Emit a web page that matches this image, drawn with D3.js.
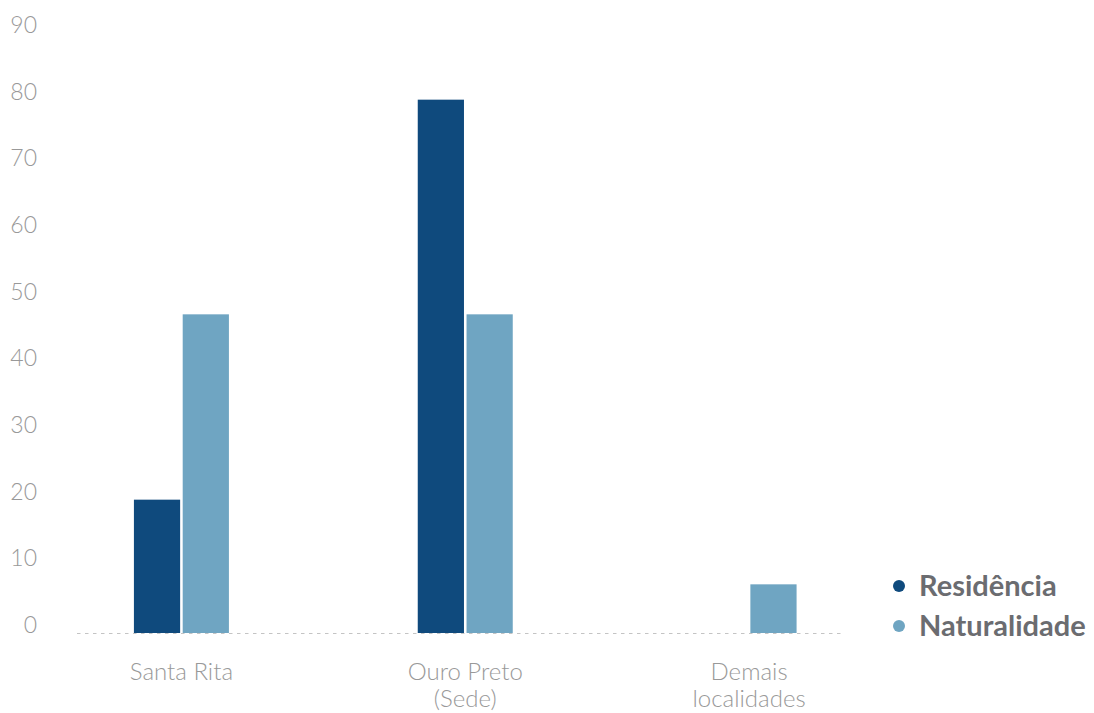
<!DOCTYPE html>
<html><head><meta charset="utf-8">
<script src="https://cdn.jsdelivr.net/npm/d3@7"></script>
<style>body{margin:0;background:#fff}svg{display:block}</style>
</head><body>
<svg id="c" width="1094" height="713"></svg>
<script>
const categories = [["Santa Rita"], ["Ouro Preto", "(Sede)"], ["Demais", "localidades"]];
const seriesNames = ["Residência", "Naturalidade"];
const residencia = [20, 80, 0];
const naturalidade = [47.8, 47.8, 7.3];
const yTicks = [0, 10, 20, 30, 40, 50, 60, 70, 80, 90];
const colors = ["#0f4a7d", "#6fa5c2"];

const svg = d3.select("#c");
const keys = categories.map(c => c.join(" "));
const x = d3.scaleBand().domain(keys).range([39.5, 891]).padding(0);
const y = d3.scaleLinear().domain([0, 90]).range([633, 33]);
const inner = d3.scaleBand().domain(seriesNames).range([0, 95]).paddingInner(0.0526);

const values = [residencia, naturalidade];
const offset = (x.bandwidth() - 95) / 2;

// y tick labels
svg.append("g").selectAll("text").data(yTicks).join("text")
  .attr("x", 37).attr("y", d => y(d))
  .attr("text-anchor", "end")
  .attr("font-family", "Lato").attr("font-weight", 300).attr("font-size", 23)
  .attr("fill", "#999999").text(d => d);

// bars
const g = svg.append("g");
seriesNames.forEach((s, si) => {
  g.selectAll(".b" + si).data(keys.map((k, i) => ({k, v: values[si][i]})).filter(d => d.v > 0))
    .join("rect")
    .attr("x", d => x(d.k) + offset + inner(s))
    .attr("width", inner.bandwidth())
    .attr("y", d => y(d.v))
    .attr("height", d => y(0) - y(d.v))
    .attr("fill", colors[si]);
});

// baseline
svg.append("line").attr("x1", 77).attr("x2", 842).attr("y1", y(0) + 0.5).attr("y2", y(0) + 0.5)
  .attr("stroke", "#c4c4c4").attr("stroke-width", 1).attr("stroke-dasharray", "3.5,4.5");

// category labels
const cl = svg.append("g").selectAll("text").data(categories).join("text")
  .attr("text-anchor", "middle")
  .attr("font-family", "Lato").attr("font-weight", 300).attr("font-size", 24)
  .attr("fill", "#999999")
  .attr("transform", (d, i) => `translate(${x(keys[i]) + x.bandwidth() / 2},680)`);
cl.selectAll("tspan").data(d => d).join("tspan")
  .attr("x", 0).attr("dy", (d, i) => i === 0 ? 0 : 27).text(d => d);

// legend
const lg = svg.append("g").selectAll("g").data(seriesNames).join("g")
  .attr("transform", (d, i) => `translate(899,${586 + i * 40})`);
lg.append("circle").attr("r", 6).attr("fill", (d, i) => colors[i]);
lg.append("text").attr("x", 20).attr("y", 10)
  .attr("font-family", "Lato").attr("font-weight", 700).attr("font-size", 29)
  .attr("fill", "#6b6c70").text(d => d);
</script>
</body></html>
